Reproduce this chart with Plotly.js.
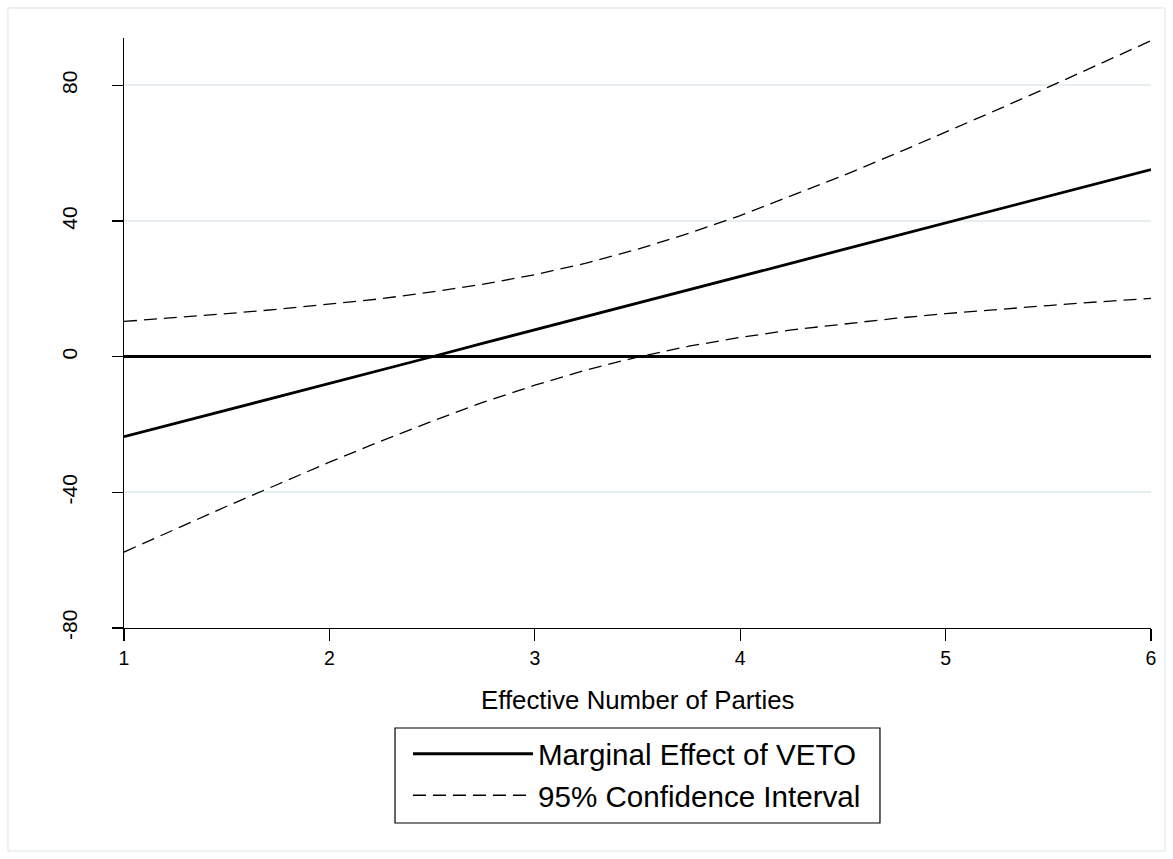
<!DOCTYPE html>
<html>
<head>
<meta charset="utf-8">
<script src="https://cdn.plot.ly/plotly-3.0.1.min.js"></script>
<style>
  html, body { margin: 0; padding: 0; background: #ffffff; }
  #chart { width: 1173px; height: 859px; }
</style>
</head>
<body>
<div id="chart"></div>
<script>
// Effective number of parties (x values)
var enp = [1, 1.25, 1.5, 1.75, 2, 2.25, 2.5, 2.75, 3, 3.25, 3.5, 3.75, 4, 4.25, 4.5, 4.75, 5, 5.25, 5.5, 5.75, 6];
// Marginal effect of VETO
var marginalEffect = [-23.6, -19.7, -15.7, -11.8, -7.8, -3.9, 0.0, 4.0, 7.9, 11.9, 15.8, 19.7, 23.7, 27.6, 31.6, 35.5, 39.4, 43.4, 47.3, 51.3, 55.2];
// 95% confidence interval bounds
var ciUpper = [10.4, 11.5, 12.7, 14.0, 15.5, 17.1, 19.1, 21.4, 24.2, 27.6, 31.7, 36.4, 41.6, 47.4, 53.4, 59.7, 66.2, 72.8, 79.5, 86.3, 93.2];
var ciLower = [-57.6, -50.8, -44.1, -37.6, -31.1, -24.9, -19.0, -13.4, -8.4, -3.9, -0.1, 3.1, 5.7, 7.9, 9.7, 11.3, 12.7, 14.0, 15.1, 16.2, 17.2];
// Axis ticks
var xTicks = [1, 2, 3, 4, 5, 6];
var yTicks = [-80, -40, 0, 40, 80];
var xTitle = "Effective Number of Parties";

var FONT = "Liberation Sans, Arial, Helvetica, sans-serif";

var traces = [
  {
    x: enp, y: marginalEffect, type: "scatter", mode: "lines",
    name: "Marginal Effect of VETO",
    line: { color: "#000000", width: 2.8 }
  },
  {
    x: enp, y: ciUpper, type: "scatter", mode: "lines",
    name: "95% Confidence Interval", legendgroup: "ci",
    line: { color: "#000000", width: 1.3, dash: "13px,7px" }
  },
  {
    x: enp, y: ciLower, type: "scatter", mode: "lines",
    name: "95% Confidence Interval", legendgroup: "ci", showlegend: false,
    line: { color: "#000000", width: 1.3, dash: "13px,7px" }
  }
];

var layout = {
  width: 1173, height: 859,
  margin: { l: 124, r: 22, t: 38, b: 231, pad: 0 },
  paper_bgcolor: "#ffffff", plot_bgcolor: "#ffffff",
  font: { family: FONT, color: "#000000" },
  showlegend: true,
  xaxis: {
    range: [1, 6], tickvals: xTicks, ticktext: xTicks.map(String),
    ticks: "outside", ticklen: 12, tickwidth: 1.3, tickcolor: "#000000",
    showline: true, linecolor: "#000000", linewidth: 1.3,
    showgrid: false, zeroline: false,
    tickfont: { family: FONT, size: 19.5, color: "#000000" },
    title: { text: "" }
  },
  yaxis: {
    range: [-80, 94], tickvals: yTicks, ticktext: yTicks.map(String),
    tickangle: -90,
    ticks: "outside", ticklen: 11, tickwidth: 1.3, tickcolor: "#000000",
    showline: true, linecolor: "#000000", linewidth: 1.3,
    showgrid: true, gridcolor: "#e6eef1", gridwidth: 2,
    zeroline: true, zerolinecolor: "#000000", zerolinewidth: 2.8,
    tickfont: { family: FONT, size: 21, color: "#000000" },
    ticklabelstandoff: 26
  },
  legend: {
    x: 0.2765, xanchor: "left", xref: "paper",
    y: -0.1695, yanchor: "top", yref: "paper",
    bgcolor: "rgba(0,0,0,0)", borderwidth: 0,
    font: { family: FONT, size: 29.6, color: "#000000" },
    itemwidth: 120, tracegroupgap: 0,
    traceorder: "normal"
  },
  annotations: [
    {
      text: xTitle, xref: "paper", yref: "paper",
      x: 0.5, y: -0.1215, xanchor: "center", yanchor: "middle",
      showarrow: false, font: { family: FONT, size: 25.8, color: "#000000" }
    }
  ],
  shapes: [
    {
      type: "rect", xref: "paper", yref: "paper",
      x0: -0.1130, x1: 1.0136, y0: -0.378, y1: 1.0508,
      line: { color: "#e6eef1", width: 1.5 }, fillcolor: "rgba(0,0,0,0)", layer: "below"
    },
    {
      type: "rect", xref: "paper", yref: "paper",
      x0: 0.2639, x1: 0.7361, y0: -0.3305, y1: -0.1695,
      line: { color: "#000000", width: 1.2 }, fillcolor: "rgba(0,0,0,0)", layer: "above"
    }
  ]
};

Plotly.newPlot("chart", traces, layout, { displayModeBar: false, staticPlot: true });
</script>
</body>
</html>
